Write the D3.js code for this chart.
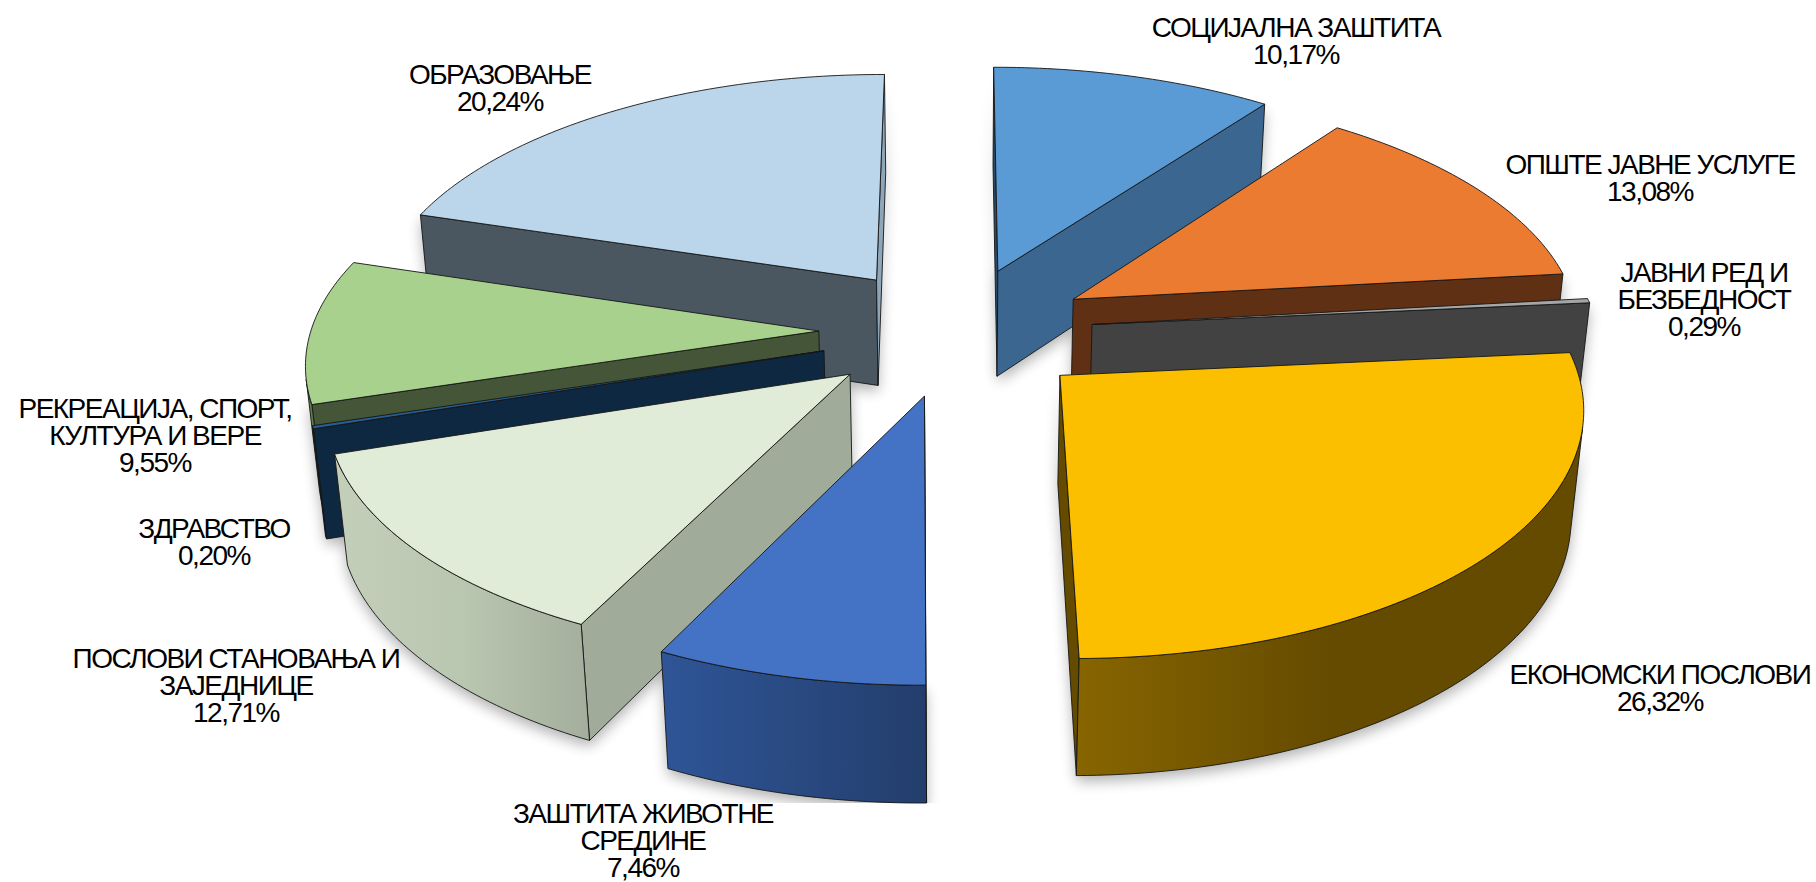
<!DOCTYPE html>
<html>
<head>
<meta charset="utf-8">
<script src="https://cdn.jsdelivr.net/npm/d3@7"></script>
<style>
  html, body { margin: 0; padding: 0; background: #fff; }
  svg { display: block; }
  text { font-family: "Liberation Sans", sans-serif; font-size: 28px; letter-spacing: -1.5px; fill: #000; }
</style>
</head>
<body>
<svg id="chart" width="1816" height="882"></svg>
<script>
// budget shares, in pie order (clockwise from 12 o'clock)
var categories = [
  ['СОЦИЈАЛНА ЗАШТИТА'],
  ['ОПШТЕ ЈАВНЕ УСЛУГЕ'],
  ['ЈАВНИ РЕД И', 'БЕЗБЕДНОСТ'],
  ['ЕКОНОМСКИ ПОСЛОВИ'],
  ['ЗАШТИТА ЖИВОТНЕ', 'СРЕДИНЕ'],
  ['ПОСЛОВИ СТАНОВАЊА И', 'ЗАЈЕДНИЦЕ'],
  ['ЗДРАВСТВО'],
  ['РЕКРЕАЦИЈА, СПОРТ,', 'КУЛТУРА И ВЕРЕ'],
  ['ОБРАЗОВАЊЕ']
];
var values = [10.17, 13.08, 0.29, 26.32, 7.46, 12.71, 0.20, 9.55, 20.24];

var topColors = ['#5b9bd5', '#ea7b30', '#a5a5a5', '#fbbf00', '#4472c4', '#e0ecd8', '#255e91', '#a9d18e', '#bbd5eb'];
var startWallColors = ['#2a4a68', '#8a4a1d', '#626262', '#967100', '#3a66b0', '#a0ab9a', '#0f2841', '#445538', '#4a5761'];
var endWallColors = ['#3a6690', '#5f3014', '#424242', '#654b00', '#2b4a80', '#8a9484', '#0f2841', '#2f3f25', '#8fa5b8'];
var arcStops = [
  ['#3a6690', '#3a6690'],
  ['#5f3014', '#5f3014'],
  ['#424242', '#424242'],
  ['#876500', '#654b00', '#654b00'],
  ['#2f5597', '#233e6c'],
  ['#c4cfba', '#b9c6b0', '#a3ae9c'],
  ['#0f2841', '#0f2841'],
  ['#5f7d4a', '#5f7d4a'],
  ['#4a5761', '#4a5761']
];
// back to front
var drawOrder = [8, 0, 1, 2, 7, 6, 5, 3, 4];
// label centres [x, first line y]
var labelPos = [[1296, 27], [1650, 164], [1704, 272], [1660, 674], [643, 813], [236, 658], [214, 528], [155, 408], [500, 74]];

var explode = 0.27, persp = 0.114, perspH = 0.0729, leanH = 0.02, depth = 107;
var xScale = d3.scaleLinear().domain([-1, 1]).range([956 - 508, 956 + 508]);
var yScale = d3.scaleLinear().domain([-1, 1]).range([331 + 240, 331 - 240]);
var lineGen = d3.line().x(function (d) { return d[0]; }).y(function (d) { return d[1]; });

// u to the right, v away from viewer, h = 0 top face / 1 bottom face
function project(u, v, h) {
  var w = 1 + persp * v + leanH * h;
  return [xScale(u / w), yScale(v / (1 + persp * v)) + h * depth / (1 + perspH * v)];
}
function area(p) {
  var s = 0;
  p.forEach(function (a, i) { var b = p[(i + 1) % p.length]; s += a[0] * b[1] - b[0] * a[1]; });
  return s;
}

var svg = d3.select('#chart');
var defs = svg.append('defs');
defs.append('filter').attr('id', 'blur').attr('x', '-10%').attr('y', '-10%').attr('width', '120%').attr('height', '120%')
  .append('feGaussianBlur').attr('stdDeviation', 7);
defs.append('clipPath').attr('id', 'shadowClip').append('rect').attr('width', 1816).attr('height', 803);

var pie = d3.pie().sort(null).value(function (d) { return d; })(values);

var slices = pie.map(function (d, i) {
  var mid = (d.startAngle + d.endAngle) / 2;
  var ou = explode * Math.sin(mid), ov = explode * Math.cos(mid);
  var n = Math.max(2, Math.ceil((d.endAngle - d.startAngle) / (Math.PI / 180)));
  var ang = d3.range(n + 1).map(function (k) { return d.startAngle + (d.endAngle - d.startAngle) * k / n; });
  function rim(a, h) { return project(ou + Math.sin(a), ov + Math.cos(a), h); }
  var apexT = project(ou, ov, 0), apexB = project(ou, ov, 1);
  var topFace = [apexT].concat(ang.map(function (a) { return rim(a, 0); }));
  var walls = [];
  var startQ = [apexT, rim(ang[0], 0), rim(ang[0], 1), apexB];
  var endQ = [rim(ang[n], 0), apexT, apexB, rim(ang[n], 1)];
  if (area(startQ) < 0) walls.push({ pts: startQ, fill: startWallColors[i] });
  if (area(endQ) < 0) walls.push({ pts: endQ, fill: endWallColors[i] });
  // outer wall: keep runs of segments that face the viewer
  var run = [];
  function flush() {
    if (run.length) {
      var poly = run.map(function (a) { return rim(a, 0); }).concat(run.slice().reverse().map(function (a) { return rim(a, 1); }));
      walls.push({ pts: poly, arc: true });
    }
    run = [];
  }
  for (var k = 0; k < n; k++) {
    var q = [rim(ang[k], 0), rim(ang[k + 1], 0), rim(ang[k + 1], 1), rim(ang[k], 1)];
    if (area(q) < 0) {
      if (!run.length) run.push(ang[k]);
      run.push(ang[k + 1]);
    } else flush();
  }
  flush();
  return { i: i, top: topFace, walls: walls };
});

slices.forEach(function (s) {
  var g = defs.append('linearGradient').attr('id', 'arc' + s.i);
  var st = arcStops[s.i];
  st.forEach(function (c, j) { g.append('stop').attr('offset', j / (st.length - 1)).attr('stop-color', c); });
});

var shadow = svg.append('g').attr('clip-path', 'url(#shadowClip)')
  .append('g').attr('filter', 'url(#blur)').attr('opacity', 0.3).attr('transform', 'translate(0,6)');
drawOrder.forEach(function (idx) {
  slices[idx].walls.forEach(function (w) {
    shadow.append('path').attr('d', lineGen(w.pts) + 'Z').attr('fill', '#000');
  });
});

var chart = svg.append('g');
drawOrder.forEach(function (idx) {
  var s = slices[idx];
  var g = chart.append('g').attr('stroke', '#151515').attr('stroke-width', 0.9).attr('stroke-linejoin', 'round');
  s.walls.forEach(function (w) {
    g.append('path').attr('d', lineGen(w.pts) + 'Z').attr('fill', w.arc ? 'url(#arc' + s.i + ')' : w.fill);
  });
  g.append('path').attr('d', lineGen(s.top) + 'Z').attr('fill', topColors[s.i]);
});

var labels = svg.append('g').attr('text-anchor', 'middle');
categories.forEach(function (lines, i) {
  var all = lines.concat([values[i].toFixed(2).replace('.', ',') + '%']);
  all.forEach(function (t, j) {
    labels.append('text').attr('x', labelPos[i][0]).attr('y', labelPos[i][1] + j * 26.8)
      .attr('dy', '0.36em').text(t);
  });
});
</script>
</body>
</html>
